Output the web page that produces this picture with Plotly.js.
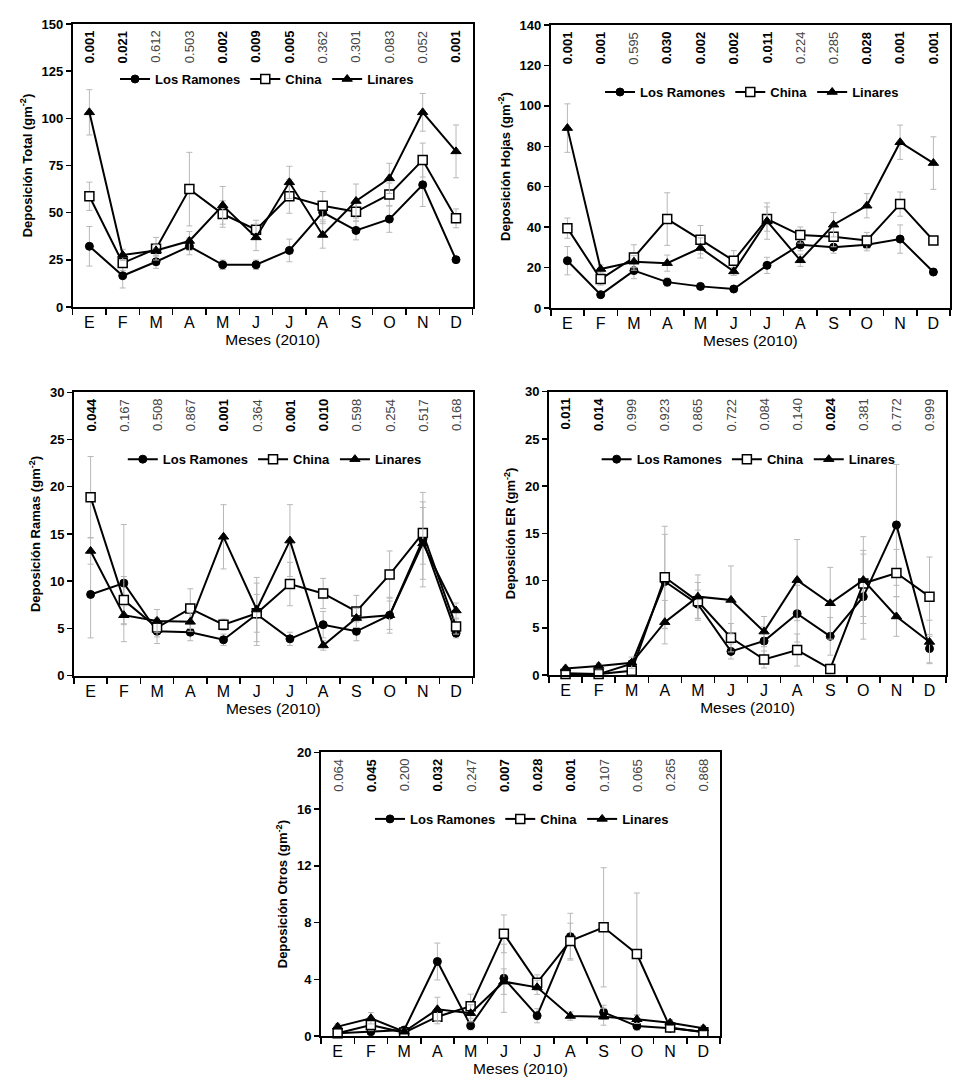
<!DOCTYPE html>
<html>
<head>
<meta charset="utf-8">
<script src="https://cdn.plot.ly/plotly-3.0.1.min.js"></script>
<style>html,body{margin:0;padding:0;background:#fff;}#chart{width:971px;height:1083px;}</style>
</head>
<body>
<div id="chart"></div>
<script>
// ---------- data ----------
const months = ['E','F','M','A','M','J','J','A','S','O','N','D'];
const seriesNames = ['Los Ramones','China','Linares'];

// Deposición Total
const totalLR = [32.2, 16.6, 24.0, 32.2, 22.4, 22.4, 30.0, 50.2, 40.6, 46.6, 64.8, 25.1];
const totalLRerr = [10.5, 6.5, 3.5, 4.5, 2.5, 2.5, 6, 6, 5, 7, 11.5, 1.5];
const totalChina = [58.7, 23.3, 30.9, 62.5, 49.3, 41.0, 58.7, 53.7, 50.5, 59.7, 77.9, 47.0];
const totalChinaErr = [7.5, 4, 6, 19.5, 7, 5, 9, 7.5, 5, 6, 9, 5];
const totalLin = [103.2, 27.6, 30.0, 35.0, 53.9, 36.9, 66.1, 38.2, 56.2, 68.2, 103.2, 82.5];
const totalLinErr = [12, 3, 3, 5, 10, 7, 8.5, 7, 9, 8, 10, 14];
const pTotal = ['0.001','0.021','0.612','0.503','0.002','0.009','0.005','0.362','0.301','0.083','0.052','0.001'];

// Deposición Hojas
const hojasLR = [23.4, 6.6, 18.5, 12.8, 10.7, 9.4, 21.1, 31.3, 30.1, 31.3, 34.1, 17.8];
const hojasLRerr = [7, 1, 4, 2, 1, 1, 4, 3, 3, 3, 7, 1];
const hojasChina = [39.5, 14.3, 25.0, 44.0, 33.8, 23.4, 44.0, 36.1, 35.3, 33.4, 51.4, 33.4];
const hojasChinaErr = [5, 3, 6.3, 13, 7, 5, 6, 4, 5, 4, 6, 2];
const hojasLin = [89.0, 19.3, 22.9, 22.2, 29.7, 18.1, 43.0, 23.6, 41.2, 50.6, 82.0, 71.7];
const hojasLinErr = [12, 2, 3, 4, 5, 2, 9, 3, 6, 6, 8.5, 13];
const pHojas = ['0.001','0.001','0.595','0.030','0.002','0.002','0.011','0.224','0.285','0.028','0.001','0.001'];

// Deposición Ramas
const ramasLR = [8.6, 9.8, 4.7, 4.6, 3.8, 6.5, 3.9, 5.4, 4.7, 6.4, 14.4, 4.5];
const ramasLRerr = [4.6, 6.2, 1.3, 0.9, 0.6, 3.3, 0.7, 1.4, 1.0, 1.9, 5.0, 0.5];
const ramasChina = [18.9, 8.0, 5.1, 7.1, 5.4, 6.6, 9.7, 8.7, 6.8, 10.7, 15.1, 5.2];
const ramasChinaErr = [4.3, 2.5, 1.0, 2.1, 0.6, 2.0, 2.3, 1.6, 1.7, 2.5, 3.3, 0.8];
const ramasLin = [13.2, 6.4, 5.8, 5.7, 14.7, 7.0, 14.3, 3.2, 6.1, 6.4, 14.0, 6.9];
const ramasLinErr = [1.4, 1.0, 1.2, 1.0, 3.4, 3.4, 3.8, 0.5, 1.0, 1.5, 3.8, 0.8];
const pRamas = ['0.044','0.167','0.508','0.867','0.001','0.364','0.001','0.010','0.598','0.254','0.517','0.168'];

// Deposición ER
const erLR = [0.2, 0.1, 1.2, 9.9, 7.5, 2.5, 3.6, 6.5, 4.1, 8.3, 15.9, 2.8];
const erLRerr = [0.1, 0.1, 0.3, 5.0, 1.5, 0.8, 1.5, 3.0, 2.0, 4.5, 6.4, 1.5];
const erChina = [0.1, 0.1, 0.45, 10.35, 7.8, 3.95, 1.65, 2.65, 0.65, 9.7, 10.8, 8.3];
const erChinaErr = [0.1, 0.1, 0.3, 5.4, 2.0, 1.5, 0.9, 1.7, 0.5, 3.5, 2.5, 4.2];
const erLin = [0.7, 0.95, 1.3, 5.6, 8.3, 7.95, 4.6, 10.05, 7.6, 10.05, 6.2, 3.5];
const erLinErr = [0.2, 0.3, 0.6, 2.3, 2.3, 3.6, 1.6, 4.3, 3.8, 4.6, 2.1, 2.3];
const pER = ['0.011','0.014','0.999','0.923','0.865','0.722','0.084','0.140','0.024','0.381','0.772','0.999'];

// Deposición Otros
const otrosLR = [0.2, 0.3, 0.42, 5.25, 0.73, 4.07, 1.43, 7.0, 1.67, 0.7, 0.54, 0.3];
const otrosLRerr = [0.1, 0.2, 0.1, 1.3, 0.3, 2.4, 0.5, 1.65, 0.5, 0.3, 0.2, 0.1];
const otrosChina = [0.19, 0.78, 0.24, 1.36, 2.1, 7.2, 3.76, 6.7, 7.66, 5.78, 0.6, 0.26];
const otrosChinaErr = [0.1, 0.4, 0.1, 0.5, 0.85, 1.33, 0.55, 1.25, 4.2, 4.3, 0.2, 0.1];
const otrosLin = [0.66, 1.25, 0.3, 1.88, 1.6, 3.83, 3.43, 1.41, 1.36, 1.18, 0.94, 0.54];
const otrosLinErr = [0.2, 0.4, 0.1, 0.85, 0.6, 0.9, 0.5, 0.3, 0.6, 0.3, 0.2, 0.2];
const pOtros = ['0.064','0.045','0.200','0.032','0.247','0.007','0.028','0.001','0.107','0.065','0.265','0.868'];

// ---------- panels ----------
const FONT = 'Liberation Sans, Arial, sans-serif';
const panels = [
  {name:'Total', lr:totalLR, lre:totalLRerr, ch:totalChina, che:totalChinaErr, li:totalLin, lie:totalLinErr, p:pTotal,
   ymax:150, dtick:25, xd:[0.0749,0.4868], yd:[0.7165,0.9778], leg:[0.275,0.927]},
  {name:'Hojas', lr:hojasLR, lre:hojasLRerr, ch:hojasChina, che:hojasChinaErr, li:hojasLin, lie:hojasLinErr, p:pHojas,
   ymax:140, dtick:20, xd:[0.5672,0.9784], yd:[0.7156,0.9769], leg:[0.7745,0.915]},
  {name:'Ramas', lr:ramasLR, lre:ramasLRerr, ch:ramasChina, che:ramasChinaErr, li:ramasLin, lie:ramasLinErr, p:pRamas,
   ymax:30, dtick:5, xd:[0.0762,0.4868], yd:[0.3761,0.6378], leg:[0.283,0.576]},
  {name:'ER', lr:erLR, lre:erLRerr, ch:erChina, che:erChinaErr, li:erLin, lie:erLinErr, p:pER,
   ymax:30, dtick:5, xd:[0.5654,0.9743], yd:[0.3767,0.6383], leg:[0.771,0.576]},
  {name:'Otros', lr:otrosLR, lre:otrosLRerr, ch:otrosChina, che:otrosChinaErr, li:otrosLin, lie:otrosLinErr, p:pOtros,
   ymax:20, dtick:4, xd:[0.3306,0.7415], yd:[0.0434,0.3054], leg:[0.5376,0.2438]}
];

const xIdx = months.map((m,i)=>i);
const traces = [];
const layout = {
  width:971, height:1083, margin:{l:0,r:0,t:0,b:0},
  paper_bgcolor:'#fff', plot_bgcolor:'#fff',
  font:{family:FONT, color:'#000'},
  annotations:[]
};
const errStyle = {type:'data', color:'#b8b8b8', thickness:1, width:3};

panels.forEach((pn, k) => {
  const n = k+1;
  const xa = n===1 ? 'x' : 'x'+n;
  const ya = n===1 ? 'y' : 'y'+n;
  const lg = n===1 ? 'legend' : 'legend'+n;
  const defs = [
    {y:pn.lr, e:pn.lre, name:seriesNames[0], marker:{symbol:'circle', size:8, color:'#000', line:{color:'#000', width:1}}},
    {y:pn.ch, e:pn.che, name:seriesNames[1], marker:{symbol:'square', size:9, color:'#fff', line:{color:'#000', width:1.5}}},
    {y:pn.li, e:pn.lie, name:seriesNames[2], marker:{symbol:'triangle-up', size:9, color:'#000', line:{color:'#000', width:1}}}
  ];
  defs.forEach(d => {
    traces.push({
      type:'scatter', mode:'lines+markers', x:xIdx, y:d.y, name:d.name,
      xaxis:xa, yaxis:ya, legend:lg,
      line:{color:'#000', width:2}, marker:d.marker,
      error_y:Object.assign({array:d.e}, errStyle),
      cliponaxis:false
    });
  });
  const xKey = n===1 ? 'xaxis' : 'xaxis'+n;
  const yKey = n===1 ? 'yaxis' : 'yaxis'+n;
  layout[xKey] = {
    domain:pn.xd, anchor:ya, range:[-0.5,11.5],
    tickmode:'array', tickvals:xIdx, ticktext:months, ticks:'', 
    minor:{tick0:0.5, dtick:1, ticks:'outside', ticklen:6, tickwidth:1.5, tickcolor:'#000', showgrid:false},
    tickfont:{family:FONT, size:16, color:'#000'},
    showline:true, linecolor:'#000', linewidth:2, mirror:true, showgrid:false, zeroline:false,
    title:{text:'Meses (2010)', font:{family:FONT, size:15.5, color:'#000'}, standoff:2}
  };
  layout[yKey] = {
    domain:pn.yd, anchor:xa, range:[0,pn.ymax], dtick:pn.dtick, tick0:0,
    ticks:'outside', ticklen:5, tickwidth:1.5, tickcolor:'#000',
    tickfont:{family:FONT, size:13, color:'#000', weight:'bold'},
    showline:true, linecolor:'#000', linewidth:2, mirror:true, showgrid:false, zeroline:false,
    title:{text:'Deposición '+pn.name+' (gm<sup>-2</sup>)', font:{family:FONT, size:13, color:'#000', weight:'bold'}, standoff:6}
  };
  layout[lg] = {
    orientation:'h', x:pn.leg[0], y:pn.leg[1], xanchor:'center', yanchor:'middle',
    bgcolor:'rgba(0,0,0,0)', borderwidth:0, itemwidth:30, tracegroupgap:0,
    font:{family:FONT, size:13, color:'#000', weight:'bold'}
  };
  pn.p.forEach((pv, i) => {
    const sig = parseFloat(pv) < 0.05;
    layout.annotations.push({
      xref:xa, yref:ya+' domain', x:i, y:0.985, xanchor:'center', yanchor:'top',
      text:pv, textangle:-90, showarrow:false,
      font:{family:FONT, size:13, color: sig ? '#000' : '#444', weight: sig ? 'bold' : 'normal'}
    });
  });
});

Plotly.newPlot('chart', traces, layout, {staticPlot:true, displayModeBar:false});
</script>
</body>
</html>
